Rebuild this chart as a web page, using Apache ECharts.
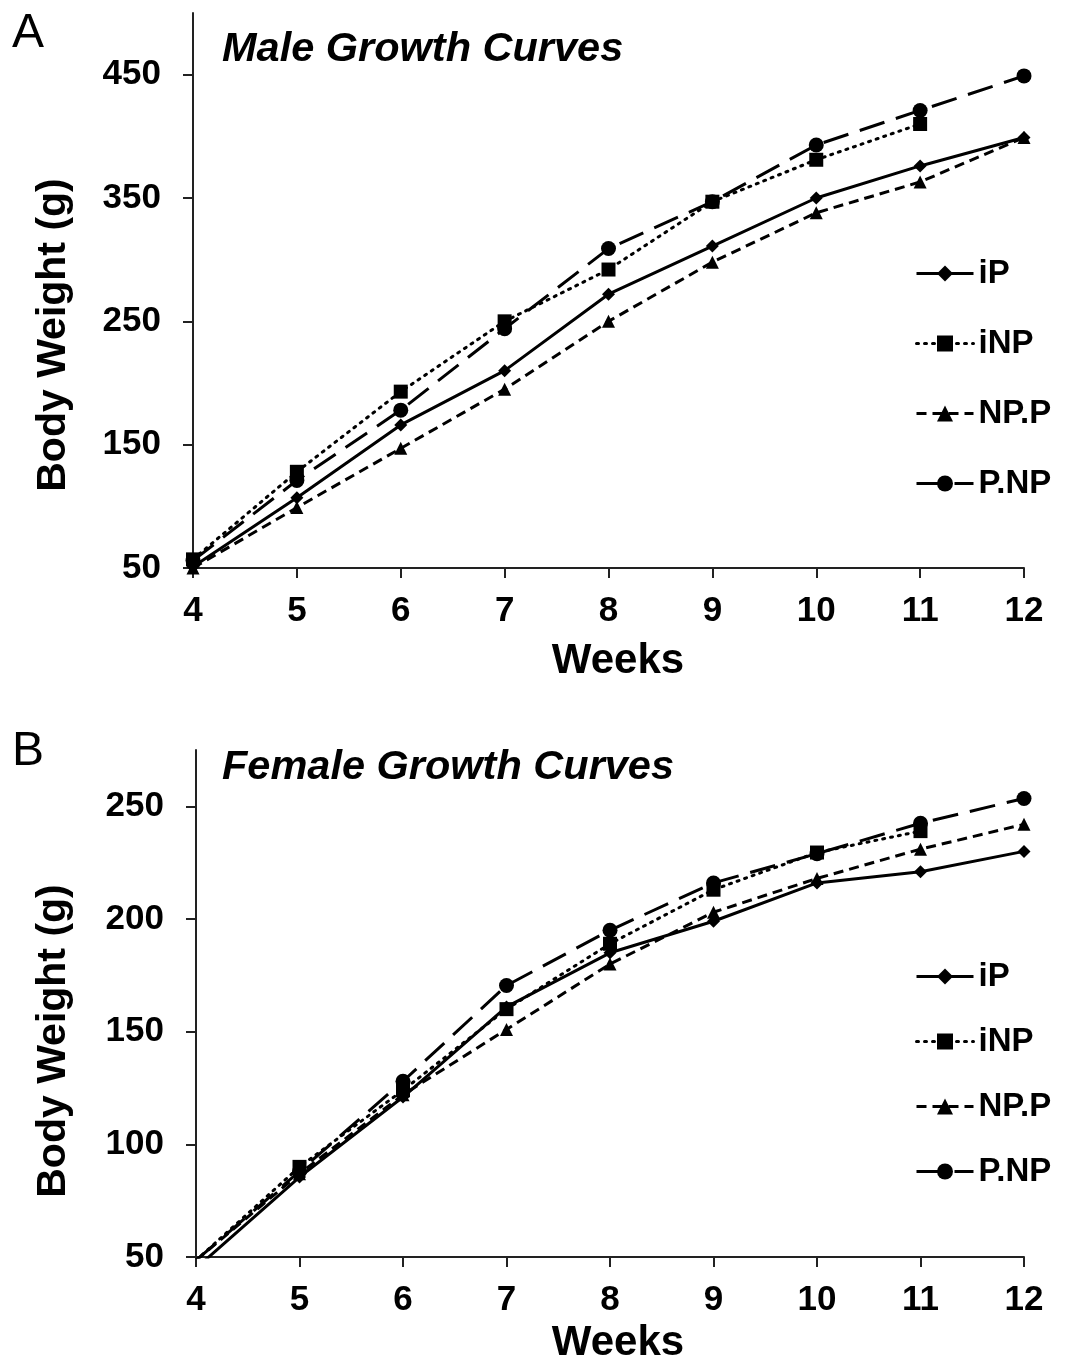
<!DOCTYPE html>
<html>
<head>
<meta charset="utf-8">
<script src="https://cdn.jsdelivr.net/npm/echarts@6/dist/echarts.min.js"></script>
<style>
html,body{margin:0;padding:0;background:#fff;}
#chart{width:1072px;height:1361px;}
</style>
</head>
<body>
<div id="chart"></div>
<script>
var weeks = [4, 5, 6, 7, 8, 9, 10, 11, 12];
var seriesNames = ['iP', 'iNP', 'NP.P', 'P.NP'];
var maleIP   = [51, 107, 166, 210, 272, 311, 350, 376, 399];
var maleINP  = [57, 128, 193, 250, 292, 347, 381, 410, null];
var maleNPP  = [50, 99, 147, 195, 250, 298, 338, 363, 399];
var malePNP  = [56, 121, 178, 244, 309, 347, 393, 421, 449];
var femaleIP  = [45, 85.5, 121, 161, 185, 199, 216, 221, 230];
var femaleINP = [48.5, 90, 124, 160, 189, 213, 229.5, 239, null];
var femaleNPP = [48.5, 87, 122, 151, 180, 203, 218, 231, 242];
var femalePNP = [48.5, 88, 128, 170.5, 195, 216, 229, 242.5, 253.5];
var maleTicks = [50, 150, 250, 350, 450];
var femaleTicks = [50, 100, 150, 200, 250];
var weekTicks = [4, 5, 6, 7, 8, 9, 10, 11, 12];

var FONT = '"Liberation Sans", Arial, Helvetica, sans-serif';

function pairs(vals) {
  var out = [];
  for (var i = 0; i < weeks.length; i++) {
    if (vals[i] !== null) out.push([weeks[i], vals[i]]);
  }
  return out;
}

var styles = {
  'iP':   {symbol: 'diamond',  size: 13, type: 'solid', cap: 'butt'},
  'iNP':  {symbol: 'rect',     size: 14, type: [2, 6], cap: 'round'},
  'NP.P': {symbol: 'triangle', size: 13, type: [10, 6], cap: 'butt'},
  'P.NP': {symbol: 'circle',   size: 15, type: [26, 12], cap: 'butt'}
};

function mkSeries(name, vals, idx) {
  var s = styles[name];
  return {
    name: name, type: 'line', xAxisIndex: idx, yAxisIndex: idx,
    data: pairs(vals), symbol: s.symbol, symbolSize: s.size,
    showAllSymbol: true, clip: true, animation: false,
    itemStyle: {color: '#000'},
    lineStyle: {color: '#000', width: 3, type: s.type, cap: s.cap},
    emphasis: {disabled: true}
  };
}

function xAxisCfg(idx) {
  return {
    type: 'value', gridIndex: idx, min: 4, max: 12, interval: 1,
    axisLine: {show: true, onZero: false, lineStyle: {color: '#222', width: 2}},
    axisTick: {show: true, length: 10, lineStyle: {color: '#222', width: 2}, customValues: weekTicks},
    axisLabel: {margin: 26, fontSize: 35, fontWeight: 'bold', color: '#000', fontFamily: FONT, customValues: weekTicks},
    splitLine: {show: false}
  };
}

function yAxisCfg(idx, min, max, interval, ticks) {
  return {
    type: 'value', gridIndex: idx, min: min, max: max, interval: interval,
    axisLine: {show: true, onZero: false, lineStyle: {color: '#222', width: 2}},
    axisTick: {show: true, length: 10, lineStyle: {color: '#222', width: 2}, customValues: ticks},
    axisLabel: {margin: 32, fontSize: 35, fontWeight: 'bold', color: '#000', fontFamily: FONT, customValues: ticks},
    splitLine: {show: false}
  };
}

function legendCfg(top, gap) {
  return {
    data: seriesNames, orient: 'vertical', left: 910, top: top,
    itemWidth: 57, itemHeight: 20, itemGap: gap,
    selectedMode: false,
    lineStyle: {width: 3},
    textStyle: {fontSize: 33, fontWeight: 'bold', color: '#000', fontFamily: FONT}
  };
}

var option = {
  backgroundColor: '#fff',
  animation: false,
  grid: [
    {left: 193, right: 48, top: 13, height: 555, containLabel: false},
    {left: 196, right: 48, top: 750, height: 507, containLabel: false}
  ],
  xAxis: [xAxisCfg(0), xAxisCfg(1)],
  yAxis: [yAxisCfg(0, 50, 500, 100, maleTicks), yAxisCfg(1, 50, 275, 50, femaleTicks)],
  legend: [legendCfg(252, 37), legendCfg(955, 32)],
  series: [
    mkSeries('iP', maleIP, 0), mkSeries('iNP', maleINP, 0), mkSeries('NP.P', maleNPP, 0), mkSeries('P.NP', malePNP, 0),
    mkSeries('iP', femaleIP, 1), mkSeries('iNP', femaleINP, 1), mkSeries('NP.P', femaleNPP, 1), mkSeries('P.NP', femalePNP, 1)
  ],
  graphic: [
    {type: 'text', left: 12, top: 10, style: {text: 'A', fontSize: 48, fontFamily: FONT, fill: '#000'}},
    {type: 'text', left: 12, top: 728, style: {text: 'B', fontSize: 48, fontFamily: FONT, fill: '#000'}},
    {type: 'text', x: 222, y: 50, style: {text: 'Male Growth Curves', fontSize: 41.5, fontWeight: 'bold', fontStyle: 'italic', fontFamily: FONT, fill: '#000', verticalAlign: 'middle', align: 'left'}},
    {type: 'text', x: 222, y: 768, style: {text: 'Female Growth Curves', fontSize: 41.5, fontWeight: 'bold', fontStyle: 'italic', fontFamily: FONT, fill: '#000', verticalAlign: 'middle', align: 'left'}},
    {type: 'text', x: 54, y: 335, rotation: Math.PI / 2, style: {text: 'Body Weight (g)', fontSize: 41, fontWeight: 'bold', fontFamily: FONT, fill: '#000', align: 'center', verticalAlign: 'middle'}},
    {type: 'text', x: 54, y: 1041, rotation: Math.PI / 2, style: {text: 'Body Weight (g)', fontSize: 41, fontWeight: 'bold', fontFamily: FONT, fill: '#000', align: 'center', verticalAlign: 'middle'}},
    {type: 'text', x: 618, y: 661, style: {text: 'Weeks', fontSize: 42, fontWeight: 'bold', fontFamily: FONT, fill: '#000', align: 'center', verticalAlign: 'middle'}},
    {type: 'text', x: 618, y: 1343, style: {text: 'Weeks', fontSize: 42, fontWeight: 'bold', fontFamily: FONT, fill: '#000', align: 'center', verticalAlign: 'middle'}}
  ]
};

var chart = echarts.init(document.getElementById('chart'), null, {renderer: 'canvas'});
chart.setOption(option);
</script>
</body>
</html>
